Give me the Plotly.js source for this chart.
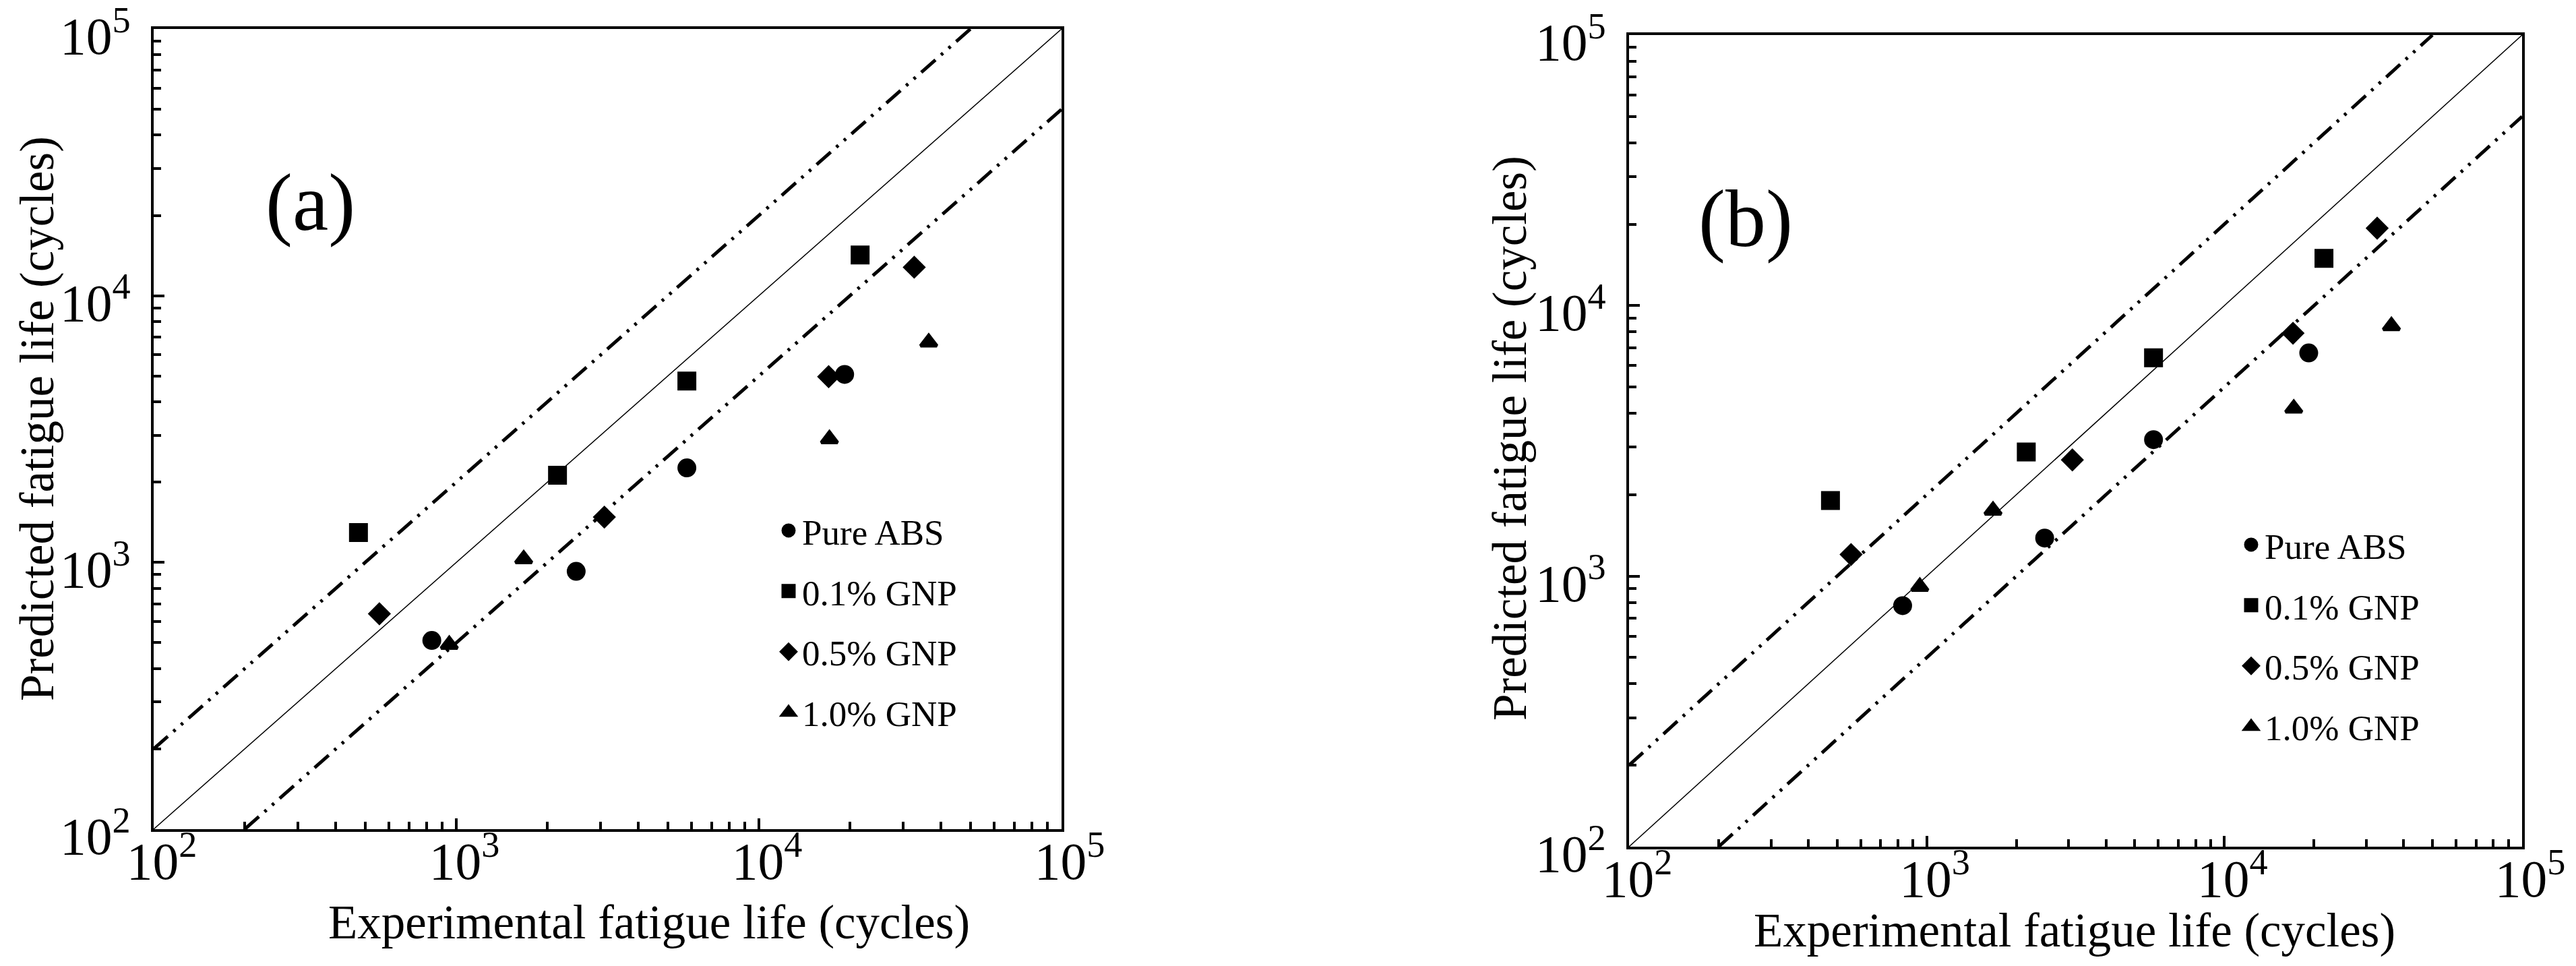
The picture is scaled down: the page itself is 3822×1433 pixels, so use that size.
<!DOCTYPE html>
<html>
<head>
<meta charset="utf-8">
<script src="https://cdn.plot.ly/plotly-3.0.1.min.js"></script>
<style>
  html, body { margin: 0; padding: 0; background: #fff; }
  #App { width: 3822px; height: 1433px; }
</style>
</head>
<body>
<div id="App"></div>
<script>
// experimental fatigue life (cycles), same for both panels
const expABS = [830, 2490, 5780, 19200];
const expGNP01 = [475, 2160, 5780, 21600];
const expGNP05 = [557, 3085, 17000, 32600];
const expGNP10 = [948, 1670, 17100, 36400];

// predicted fatigue life, panel (a)
const predA_ABS = [510, 926, 2262, 5070];
const predA_GNP01 = [1295, 2122, 4786, 14220];
const predA_GNP05 = [642, 1479, 4970, 12790];
const predA_GNP10 = [492, 1030, 2903, 6688];

// predicted fatigue life, panel (b)
const predB_ABS = [778, 1383, 3196, 6683];
const predB_GNP01 = [1904, 2878, 6410, 14960];
const predB_GNP05 = [1202, 2690, 7904, 19330];
const predB_GNP10 = [915, 1750, 4170, 8414];

const seriesNames = ["Pure ABS", "0.1% GNP", "0.5% GNP", "1.0% GNP"];
const symbols = ["circle", "square", "diamond", "triangle-up"];
// marker size + outline width gives the drawn size (outline keeps legend symbols larger)
const sizes = [23, 23, 21, 21];

// 1:1 line and the factor-of-two band
const unityX = [1e2, 1e5];
const unityY = [1e2, 1e5];
const upperX = [1e2, 5e4];
const upperY = [2e2, 1e5];
const lowerX = [2e2, 1e5];
const lowerY = [1e2, 5e4];

const W = 3822, H = 1433;
const FONT = '"Liberation Serif", "Times New Roman", serif';
const DASHDOTDOT = "28px,11px,4px,11px,4px,11px";

/* H E L P E R S */
function points(x, y, i, xa, ya, legend) {
  return {
    x: x, y: y, xaxis: xa, yaxis: ya,
    type: "scatter", mode: "markers",
    name: seriesNames[i],
    legend: legend,
    legendgroup: legend + "_" + i,
    marker: { symbol: symbols[i], size: sizes[i], color: "black", line: { color: "black", width: 5 } },
    hoverinfo: "x+y+name"
  };
}

function refLine(x, y, xa, ya, dash, width) {
  return {
    x: x, y: y, xaxis: xa, yaxis: ya,
    type: "scatter", mode: "lines",
    line: { color: "black", width: width, dash: dash },
    showlegend: false, hoverinfo: "skip"
  };
}

function panelTraces(xa, ya, legend, preds) {
  const exps = [expABS, expGNP01, expGNP05, expGNP10];
  const out = [
    refLine(unityX, unityY, xa, ya, "solid", 1.5),
    refLine(upperX, upperY, xa, ya, DASHDOTDOT, 5),
    refLine(lowerX, lowerY, xa, ya, DASHDOTDOT, 5)
  ];
  preds.forEach((p, i) => out.push(points(exps[i], p, i, xa, ya, legend)));
  return out;
}

// y axes: labels pushed a bit down and away; x axes: labels tucked up and nudged right
function logAxis(domain, anchor, isY) {
  return {
    type: "log", range: [2, 5], domain: domain, anchor: anchor,
    dtick: 1, exponentformat: "power",
    showline: true, linecolor: "black", linewidth: 4, mirror: true,
    ticks: "inside", ticklen: 16, tickwidth: 4, tickcolor: "black",
    minor: { ticks: "inside", ticklen: 11, tickwidth: 4, tickcolor: "black", dtick: "D1", showgrid: false },
    showgrid: false, zeroline: false,
    ticklabeloverflow: "allow",
    ticklabelstandoff: isY ? 18 : -20,
    ticklabelshift: isY ? 10 : 12,
    tickfont: { family: FONT, size: 62, color: "black" }
  };
}

function legendBox(left, top) {
  return {
    x: left / W, y: 1 - top / H, xanchor: "left", yanchor: "top",
    xref: "paper", yref: "paper",
    bgcolor: "rgba(0,0,0,0)", borderwidth: 0,
    font: { family: FONT, size: 53, color: "black" },
    tracegroupgap: 18, itemwidth: 30
  };
}

function label(text, x, y, size, angle) {
  return {
    text: text, xref: "paper", yref: "paper",
    x: x / W, y: 1 - y / H, xanchor: "center", yanchor: "middle",
    showarrow: false, textangle: angle || 0,
    font: { family: FONT, size: size, color: "black" }
  };
}

const data = panelTraces("x", "y", "legend", [predA_ABS, predA_GNP01, predA_GNP05, predA_GNP10])
  .concat(panelTraces("x2", "y2", "legend2", [predB_ABS, predB_GNP01, predB_GNP05, predB_GNP10]));

const layout = {
  width: W, height: H,
  margin: { l: 0, r: 0, t: 0, b: 0 },
  paper_bgcolor: "white", plot_bgcolor: "white",
  font: { family: FONT, color: "black" },
  xaxis: logAxis([228 / W, 1575 / W], "y", false),
  yaxis: logAxis([1 - 1230 / H, 1 - 43 / H], "x", true),
  xaxis2: logAxis([2417 / W, 3742 / W], "y2", false),
  yaxis2: logAxis([1 - 1256 / H, 1 - 52 / H], "x2", true),
  legend: legendBox(1150, 746),
  legend2: legendBox(3320, 767),
  annotations: [
    label("(a)", 460, 301, 120),
    label("(b)", 2590, 325, 120),
    label("Experimental fatigue life (cycles)", 963, 1368, 71),
    label("Experimental fatigue life (cycles)", 3078, 1380, 71),
    label("Predicted fatigue life (cycles)", 55, 621, 71, -90),
    label("Predicted fatigue life (cycles)", 2240, 650, 71, -90)
  ]
};

const config = { displayModeBar: false };

Plotly.newPlot("App", data, layout, config);
</script>
</body>
</html>
